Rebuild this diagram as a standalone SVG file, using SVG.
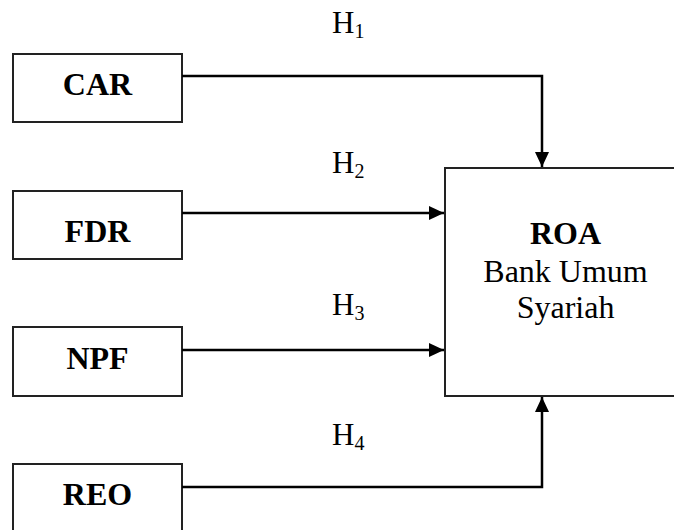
<svg xmlns="http://www.w3.org/2000/svg" width="674" height="530" viewBox="0 0 674 530">
<style>
.box{fill:#fff;stroke:#222;stroke-width:2}
.lbl{font-family:"Liberation Serif","Times New Roman",serif;font-weight:bold;font-size:32px;fill:#000;text-anchor:middle}
.txt{font-family:"Liberation Serif","Times New Roman",serif;font-size:32px;fill:#000;text-anchor:middle}
.h{font-family:"Liberation Serif","Times New Roman",serif;font-size:31px;fill:#000}
.sub{font-size:20px}
.conn{fill:none;stroke:#000;stroke-width:2.5}
</style>
<defs>
<marker id="arr" markerUnits="userSpaceOnUse" markerWidth="16" markerHeight="16" viewBox="0 0 16 16" refX="15" refY="8" orient="auto">
<path d="M0,1 L15,8 L0,15 Z" fill="#000"/>
</marker>
</defs>
<g id="CAR">
<rect class="box" x="13" y="54" width="169" height="68"/>
<text class="lbl" x="97.5" y="95">CAR</text>
</g>
<g id="FDR">
<rect class="box" x="13" y="191" width="169" height="68"/>
<text class="lbl" x="97.5" y="242">FDR</text>
</g>
<g id="NPF">
<rect class="box" x="13" y="327" width="169" height="69"/>
<text class="lbl" x="97.5" y="369">NPF</text>
</g>
<g id="REO">
<rect class="box" x="13" y="464" width="169" height="80"/>
<text class="lbl" x="97.5" y="505">REO</text>
</g>
<g id="ROA">
<rect class="box" x="445" y="168" width="250" height="228"/>
<text class="lbl" x="565.5" y="244">ROA</text>
<text class="txt" x="565.5" y="282">Bank Umum</text>
<text class="txt" x="565.5" y="318">Syariah</text>
</g>
<g id="connectors">
<path class="conn" d="M182,76 H542 V167" marker-end="url(#arr)"/>
<path class="conn" d="M182,213 H444" marker-end="url(#arr)"/>
<path class="conn" d="M182,350 H444" marker-end="url(#arr)"/>
<path class="conn" d="M182,487 H542 V397" marker-end="url(#arr)"/>
</g>
<g id="labels">
<text class="h" x="332" y="33">H<tspan class="sub" dy="5">1</tspan></text>
<text class="h" x="332" y="173">H<tspan class="sub" dy="5">2</tspan></text>
<text class="h" x="332" y="315">H<tspan class="sub" dy="5">3</tspan></text>
<text class="h" x="332" y="445">H<tspan class="sub" dy="5">4</tspan></text>
</g>
</svg>
